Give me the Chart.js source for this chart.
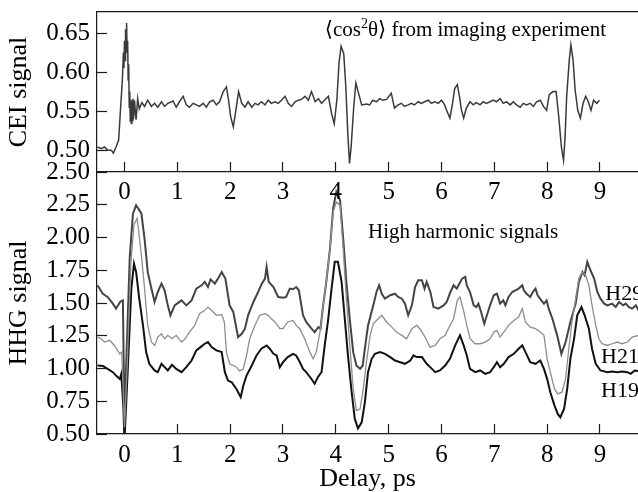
<!DOCTYPE html>
<html lang="en">
<head>
    <meta charset="UTF-8">
    <title>CEI and high harmonic signals vs delay</title>
    <script src="https://cdn.jsdelivr.net/npm/chart.js"></script>
    <style>
        html, body { margin: 0; padding: 0; background: #fff; overflow: hidden; }
        .wrap { position: relative; width: 638px; height: 492px; }
        .wrap canvas { position: absolute; left: 0; top: 0; }
    </style>
</head>
<body>
    <div class="wrap">
        <canvas id="hhgChart" width="638" height="492"></canvas>
        <canvas id="ceiChart" width="638" height="230"></canvas>
    </div>

    <script>
        // ---- data ----
        const delayTicks = [0, 1, 2, 3, 4, 5, 6, 7, 8, 9];
        const ceiTicks = [0.50, 0.55, 0.60, 0.65];
        const hhgTicks = [0.50, 0.75, 1.00, 1.25, 1.50, 1.75, 2.00, 2.25, 2.50];

        // <cos^2 theta> from imaging experiment
        const ceiDelay = [
            -0.51, -0.44, -0.38, -0.32, -0.25, -0.21, -0.16, -0.11, -0.08, -0.04,
            -0.02, -0.01, 0.00, 0.01, 0.02, 0.03, 0.04, 0.05, 0.06, 0.07,
            0.08, 0.09, 0.10, 0.11, 0.12, 0.13, 0.14, 0.15, 0.16, 0.17,
            0.19, 0.21, 0.22, 0.25, 0.28, 0.33, 0.38, 0.44, 0.51, 0.57,
            0.63, 0.70, 0.76, 0.82, 0.92, 0.98, 1.04, 1.11, 1.17, 1.23,
            1.30, 1.36, 1.42, 1.49, 1.55, 1.61, 1.68, 1.74, 1.80, 1.87,
            1.93, 1.97, 2.01, 2.06, 2.10, 2.16, 2.22, 2.28, 2.34, 2.41,
            2.47, 2.53, 2.59, 2.66, 2.72, 2.78, 2.85, 2.91, 2.97, 3.04,
            3.10, 3.16, 3.23, 3.29, 3.35, 3.42, 3.48, 3.54, 3.61, 3.67,
            3.73, 3.80, 3.86, 3.92, 3.97, 4.02, 4.06, 4.10, 4.15, 4.19,
            4.23, 4.26, 4.29, 4.34, 4.38, 4.43, 4.49, 4.58, 4.64, 4.70,
            4.77, 4.83, 4.89, 4.96, 5.05, 5.11, 5.18, 5.24, 5.30, 5.37,
            5.43, 5.49, 5.56, 5.62, 5.68, 5.75, 5.81, 5.87, 5.94, 6.00,
            6.06, 6.11, 6.16, 6.21, 6.25, 6.30, 6.34, 6.38, 6.42, 6.47,
            6.54, 6.60, 6.66, 6.73, 6.79, 6.85, 6.92, 6.98, 7.04, 7.11,
            7.17, 7.23, 7.30, 7.36, 7.42, 7.49, 7.55, 7.61, 7.68, 7.74,
            7.80, 7.87, 7.93, 7.99, 8.04, 8.11, 8.17, 8.22, 8.27, 8.31,
            8.34, 8.37, 8.42, 8.45, 8.49, 8.53, 8.58, 8.63, 8.68, 8.73,
            8.78, 8.83, 8.88, 8.94, 8.99
        ];
        const ceiSignal = [
            0.504, 0.502, 0.504, 0.500, 0.500, 0.496, 0.504, 0.513, 0.547, 0.590,
            0.625, 0.605, 0.640, 0.615, 0.655, 0.630, 0.663, 0.625, 0.640, 0.590,
            0.610, 0.555, 0.575, 0.537, 0.565, 0.534, 0.563, 0.538, 0.566, 0.540,
            0.564, 0.545, 0.539, 0.566, 0.553, 0.561, 0.556, 0.564, 0.556, 0.560,
            0.555, 0.562, 0.556, 0.560, 0.563, 0.555, 0.562, 0.569, 0.558, 0.555,
            0.560, 0.558, 0.556, 0.560, 0.555, 0.562, 0.564, 0.558, 0.562, 0.575,
            0.581, 0.564, 0.543, 0.530, 0.547, 0.575, 0.560, 0.555, 0.562, 0.555,
            0.560, 0.558, 0.562, 0.558, 0.564, 0.560, 0.562, 0.560, 0.564, 0.569,
            0.560, 0.556, 0.562, 0.564, 0.565, 0.569, 0.564, 0.575, 0.562, 0.566,
            0.560, 0.565, 0.569, 0.547, 0.534, 0.564, 0.611, 0.633, 0.624, 0.581,
            0.517, 0.483, 0.504, 0.556, 0.586, 0.573, 0.558, 0.559, 0.558, 0.564,
            0.562, 0.566, 0.564, 0.565, 0.573, 0.554, 0.558, 0.560, 0.556, 0.558,
            0.560, 0.558, 0.562, 0.560, 0.562, 0.564, 0.560, 0.562, 0.560, 0.564,
            0.558, 0.549, 0.541, 0.560, 0.579, 0.584, 0.569, 0.551, 0.541, 0.554,
            0.562, 0.558, 0.561, 0.558, 0.562, 0.560, 0.562, 0.564, 0.562, 0.566,
            0.560, 0.562, 0.558, 0.562, 0.558, 0.555, 0.560, 0.558, 0.560, 0.556,
            0.562, 0.564, 0.556, 0.551, 0.571, 0.575, 0.575, 0.543, 0.504, 0.487,
            0.517, 0.569, 0.616, 0.635, 0.616, 0.577, 0.551, 0.541, 0.560, 0.569,
            0.562, 0.551, 0.564, 0.560, 0.564
        ];

        // H29 harmonic
        const h29Delay = [
            -0.51, -0.41, -0.32, -0.22, -0.16, -0.08, -0.03, 0.00, 0.03, 0.10,
            0.16, 0.22, 0.32, 0.38, 0.44, 0.51, 0.57, 0.63, 0.70, 0.76,
            0.82, 0.87, 0.95, 1.08, 1.17, 1.27, 1.36, 1.46, 1.52, 1.58,
            1.63, 1.71, 1.77, 1.84, 1.91, 1.99, 2.06, 2.15, 2.22, 2.28,
            2.34, 2.44, 2.53, 2.60, 2.66, 2.69, 2.73, 2.82, 2.91, 3.01,
            3.06, 3.13, 3.19, 3.25, 3.30, 3.38, 3.44, 3.54, 3.60, 3.67,
            3.71, 3.76, 3.82, 3.89, 3.95, 4.01, 4.08, 4.14, 4.20, 4.27,
            4.33, 4.39, 4.46, 4.51, 4.55, 4.61, 4.71, 4.77, 4.82, 4.87,
            4.93, 5.03, 5.12, 5.18, 5.25, 5.31, 5.37, 5.44, 5.50, 5.56,
            5.63, 5.68, 5.72, 5.79, 5.85, 5.94, 6.04, 6.10, 6.17, 6.23,
            6.29, 6.39, 6.45, 6.48, 6.54, 6.61, 6.66, 6.70, 6.75, 6.81,
            6.86, 6.92, 6.99, 7.05, 7.11, 7.17, 7.21, 7.27, 7.34, 7.40,
            7.46, 7.53, 7.56, 7.61, 7.68, 7.73, 7.78, 7.82, 7.89, 7.94,
            7.99, 8.03, 8.10, 8.19, 8.27, 8.35, 8.44, 8.54, 8.60, 8.67,
            8.71, 8.76, 8.82, 8.89, 8.95, 9.01, 9.08, 9.14, 9.23, 9.30,
            9.36, 9.44, 9.49, 9.55, 9.61, 9.68, 9.73
        ];
        const h29Signal = [
            1.635, 1.570, 1.546, 1.495, 1.457, 1.510, 1.520, 0.600, 1.000, 1.850,
            2.180, 2.247, 2.184, 1.992, 1.737, 1.610, 1.508, 1.584, 1.648, 1.597,
            1.482, 1.406, 1.482, 1.520, 1.482, 1.520, 1.610, 1.635, 1.661, 1.622,
            1.681, 1.648, 1.686, 1.737, 1.686, 1.482, 1.431, 1.240, 1.265, 1.304,
            1.406, 1.508, 1.584, 1.648, 1.686, 1.776, 1.661, 1.622, 1.546, 1.540,
            1.546, 1.610, 1.605, 1.622, 1.597, 1.406, 1.355, 1.304, 1.278, 1.316,
            1.304, 1.482, 1.661, 1.916, 2.222, 2.349, 2.286, 1.992, 1.661, 1.355,
            1.125, 1.023, 0.997, 1.023, 1.151, 1.329, 1.482, 1.584, 1.635, 1.571,
            1.533, 1.559, 1.571, 1.546, 1.533, 1.495, 1.406, 1.482, 1.622, 1.673,
            1.673, 1.610, 1.661, 1.584, 1.469, 1.457, 1.482, 1.508, 1.584, 1.635,
            1.610, 1.686, 1.700, 1.635, 1.584, 1.482, 1.469, 1.495, 1.431, 1.342,
            1.406, 1.482, 1.559, 1.571, 1.495, 1.520, 1.482, 1.546, 1.584, 1.597,
            1.610, 1.635, 1.597, 1.571, 1.546, 1.584, 1.610, 1.559, 1.520, 1.495,
            1.520, 1.457, 1.380, 1.253, 1.112, 1.202, 1.355, 1.495, 1.661, 1.737,
            1.712, 1.814, 1.750, 1.686, 1.584, 1.533, 1.495, 1.482, 1.495, 1.469,
            1.508, 1.482, 1.495, 1.469, 1.457, 1.482, 1.444
        ];

        // H21 harmonic
        const h21Delay = [
            -0.51, -0.44, -0.38, -0.28, -0.19, -0.09, -0.05, 0.00, 0.05, 0.12,
            0.18, 0.24, 0.32, 0.38, 0.44, 0.51, 0.57, 0.63, 0.70, 0.76,
            0.82, 0.90, 0.98, 1.08, 1.15, 1.23, 1.33, 1.42, 1.52, 1.58,
            1.68, 1.74, 1.84, 1.89, 1.93, 1.99, 2.06, 2.12, 2.18, 2.25,
            2.31, 2.37, 2.47, 2.56, 2.66, 2.72, 2.78, 2.85, 2.94, 3.00,
            3.09, 3.19, 3.25, 3.32, 3.41, 3.51, 3.57, 3.63, 3.70, 3.76,
            3.82, 3.89, 3.95, 4.01, 4.08, 4.14, 4.20, 4.27, 4.33, 4.39,
            4.46, 4.52, 4.58, 4.65, 4.71, 4.77, 4.87, 4.96, 5.06, 5.15,
            5.25, 5.34, 5.44, 5.53, 5.59, 5.69, 5.78, 5.88, 5.97, 6.07,
            6.13, 6.23, 6.30, 6.35, 6.42, 6.48, 6.54, 6.64, 6.73, 6.83,
            6.92, 6.99, 7.05, 7.11, 7.18, 7.27, 7.37, 7.46, 7.53, 7.59,
            7.68, 7.78, 7.87, 7.94, 8.00, 8.06, 8.14, 8.20, 8.28, 8.35,
            8.41, 8.47, 8.54, 8.60, 8.66, 8.73, 8.79, 8.85, 8.92, 8.98,
            9.04, 9.14, 9.23, 9.33, 9.42, 9.52, 9.61, 9.73
        ];
        const h21Signal = [
            1.240, 1.227, 1.202, 1.215, 1.176, 1.112, 1.125, 0.550, 1.000, 1.800,
            2.100, 2.145, 1.865, 1.610, 1.330, 1.202, 1.176, 1.240, 1.265, 1.227,
            1.253, 1.227, 1.253, 1.202, 1.227, 1.278, 1.329, 1.418, 1.444, 1.469,
            1.431, 1.406, 1.412, 1.355, 1.125, 1.036, 1.023, 1.010, 0.980, 0.997,
            1.100, 1.227, 1.330, 1.406, 1.418, 1.406, 1.380, 1.355, 1.304, 1.304,
            1.355, 1.367, 1.329, 1.304, 1.227, 1.125, 1.074, 1.125, 1.278, 1.482,
            1.661, 1.916, 2.196, 2.270, 2.247, 1.916, 1.533, 1.151, 0.844, 0.679,
            0.692, 0.844, 1.049, 1.253, 1.342, 1.367, 1.406, 1.355, 1.316, 1.278,
            1.253, 1.227, 1.304, 1.329, 1.304, 1.240, 1.163, 1.176, 1.227, 1.253,
            1.304, 1.380, 1.520, 1.546, 1.440, 1.329, 1.227, 1.189, 1.189, 1.202,
            1.227, 1.278, 1.291, 1.240, 1.278, 1.329, 1.367, 1.393, 1.457, 1.355,
            1.316, 1.304, 1.278, 1.253, 1.074, 0.972, 0.844, 0.806, 0.819, 0.921,
            1.151, 1.355, 1.533, 1.686, 1.737, 1.712, 1.635, 1.482, 1.329, 1.227,
            1.189, 1.176, 1.189, 1.202, 1.189, 1.202, 1.240, 1.253
        ];

        // H19 harmonic
        const h19Delay = [
            -0.51, -0.41, -0.32, -0.22, -0.16, -0.09, -0.06, -0.02, 0.00, 0.06,
            0.13, 0.18, 0.22, 0.28, 0.35, 0.41, 0.47, 0.57, 0.63, 0.70,
            0.76, 0.82, 0.90, 0.98, 1.08, 1.17, 1.27, 1.36, 1.44, 1.52,
            1.58, 1.65, 1.74, 1.84, 1.90, 1.96, 2.03, 2.12, 2.20, 2.25,
            2.31, 2.41, 2.50, 2.59, 2.69, 2.75, 2.82, 2.88, 2.94, 3.00,
            3.09, 3.19, 3.25, 3.32, 3.38, 3.44, 3.54, 3.60, 3.66, 3.73,
            3.79, 3.85, 3.92, 3.98, 4.04, 4.11, 4.17, 4.23, 4.30, 4.36,
            4.42, 4.49, 4.55, 4.61, 4.68, 4.74, 4.84, 4.93, 5.03, 5.12,
            5.22, 5.31, 5.41, 5.47, 5.53, 5.63, 5.72, 5.82, 5.88, 5.97,
            6.07, 6.16, 6.26, 6.35, 6.42, 6.48, 6.54, 6.64, 6.73, 6.83,
            6.92, 6.99, 7.05, 7.11, 7.18, 7.27, 7.37, 7.46, 7.53, 7.59,
            7.68, 7.78, 7.87, 7.94, 8.00, 8.06, 8.14, 8.20, 8.25, 8.32,
            8.38, 8.44, 8.51, 8.57, 8.65, 8.71, 8.79, 8.85, 8.92, 9.01,
            9.14, 9.23, 9.33, 9.42, 9.52, 9.58, 9.66, 9.73
        ];
        const h19Signal = [
            1.023, 1.020, 0.997, 0.972, 0.946, 0.920, 0.959, 0.700, 0.450, 0.972,
            1.610, 1.800, 1.737, 1.533, 1.329, 1.125, 1.036, 0.985, 0.972, 1.036,
            1.010, 0.985, 1.028, 0.997, 0.972, 1.010, 1.061, 1.138, 1.163, 1.189,
            1.202, 1.163, 1.138, 1.125, 0.972, 0.908, 0.895, 0.844, 0.781, 0.870,
            0.946, 1.023, 1.100, 1.151, 1.176, 1.151, 1.112, 1.100, 1.010, 1.048,
            1.087, 1.112, 1.100, 1.048, 0.997, 0.972, 0.920, 0.883, 0.934, 0.972,
            1.176, 1.355, 1.610, 1.814, 1.814, 1.661, 1.380, 1.100, 0.819, 0.615,
            0.543, 0.589, 0.742, 0.972, 1.074, 1.112, 1.125, 1.112, 1.087, 1.061,
            1.048, 1.036, 1.061, 1.100, 1.087, 1.087, 1.036, 0.997, 0.972, 0.985,
            1.023, 1.074, 1.176, 1.253, 1.176, 1.100, 0.997, 0.972, 0.985, 0.959,
            0.972, 1.010, 1.048, 1.010, 1.036, 1.087, 1.112, 1.151, 1.176, 1.125,
            1.048, 1.036, 1.061, 0.997, 0.921, 0.819, 0.717, 0.653, 0.628, 0.691,
            0.844, 1.074, 1.227, 1.406, 1.469, 1.406, 1.304, 1.151, 1.036, 0.985,
            0.972, 0.977, 0.972, 0.977, 0.972, 0.959, 0.985, 0.980
        ];

        // ---- look ----
        const SERIF = "'Liberation Serif', 'Times New Roman', 'DejaVu Serif', serif";
        const INK = '#1a1a1a';
        const DELAY_MIN = -0.52, DELAY_MAX = 9.72;

        const points = (xs, ys) => xs.map((x, i) => ({ x: x, y: ys[i] }));

        // force fixed axis sizes so both panels line up
        function fixBox(size) {
            return s => {
                if (s.isHorizontal()) s.height = size; else s.width = size;
                s.paddingTop = s.paddingBottom = s.paddingLeft = s.paddingRight = 0;
            };
        }

        const inwardTicks = { drawOnChartArea: false, drawTicks: true, tickLength: -10, tickColor: INK, tickWidth: 1.2 };
        const frameBorder = { display: true, color: INK, width: 1.2 };

        function delayAxis(labelPad, title) {
            return {
                type: 'linear', position: 'bottom', min: DELAY_MIN, max: DELAY_MAX,
                afterBuildTicks: s => { s.ticks = delayTicks.map(v => ({ value: v })); },
                afterFit: fixBox(58),
                border: frameBorder,
                grid: inwardTicks,
                ticks: { color: '#000', font: { family: SERIF, size: 25 }, padding: labelPad,
                         maxRotation: 0, autoSkip: false, callback: v => String(v) },
                title: title
                    ? { display: true, text: title, color: '#000', font: { family: SERIF, size: 26, lineHeight: 1 }, padding: 0 }
                    : { display: false }
            };
        }

        function signalAxis(min, max, tickVals, title) {
            return {
                type: 'linear', position: 'left', min: min, max: max,
                afterBuildTicks: s => { s.ticks = tickVals.map(v => ({ value: v })); },
                afterFit: fixBox(97),
                border: frameBorder,
                grid: inwardTicks,
                ticks: { color: '#000', font: { family: SERIF, size: 25 }, padding: 17, autoSkip: false,
                         callback: v => v.toFixed(2) },
                title: { display: true, text: title, color: '#000', font: { family: SERIF, size: 26, lineHeight: 1 },
                         padding: { top: 6, bottom: 0 } }
            };
        }

        // small text layer, anchored through the chart scales
        function textLayer(items) {
            return {
                id: 'textLayer',
                afterDatasetsDraw(chart) {
                    const { ctx, scales } = chart;
                    ctx.save();
                    ctx.fillStyle = '#000';
                    ctx.textBaseline = 'alphabetic';
                    ctx.textAlign = 'left';
                    items.forEach(it => {
                        let px = scales.x.getPixelForValue(it.at[0]);
                        const py = scales.y.getPixelForValue(it.at[1]);
                        it.parts.forEach(p => {
                            ctx.font = p.size + 'px ' + SERIF;
                            ctx.fillText(p.text, px, py - (p.rise || 0));
                            px += ctx.measureText(p.text).width;
                        });
                    });
                    ctx.restore();
                }
            };
        }

        const baseOptions = (padTop) => ({
            responsive: false,
            animation: false,
            events: [],
            layout: { padding: { top: padTop, left: 0, right: 0, bottom: 0 }, autoPadding: false },
            elements: { point: { radius: 0 }, line: { tension: 0 } },
            plugins: { legend: { display: false }, tooltip: { enabled: false } }
        });

        // ---- bottom panel: HHG ----
        const hhgOpts = baseOptions(172);
        hhgOpts.scales = {
            x: delayAxis(16.5, 'Delay, ps'),
            y: signalAxis(0.50, 2.50, hhgTicks, 'HHG signal')
        };
        new Chart(document.getElementById('hhgChart'), {
            type: 'line',
            data: {
                datasets: [
                    { label: 'H21', data: points(h21Delay, h21Signal), borderColor: '#8e8e8e', borderWidth: 1.3 },
                    { label: 'H29', data: points(h29Delay, h29Signal), borderColor: '#444444', borderWidth: 2 },
                    { label: 'H19', data: points(h19Delay, h19Signal), borderColor: '#111111', borderWidth: 2 }
                ]
            },
            options: hhgOpts,
            plugins: [textLayer([
                { at: [4.61, 1.996], parts: [{ text: 'High harmonic signals', size: 21 }] },
                { at: [9.10, 1.523], parts: [{ text: 'H29', size: 22 }] },
                { at: [9.02, 1.042], parts: [{ text: 'H21', size: 22 }] },
                { at: [9.02, 0.782], parts: [{ text: 'H19', size: 22 }] }
            ])]
        });

        // ---- top panel: CEI ----
        const ceiOpts = baseOptions(12);
        ceiOpts.scales = {
            x: delayAxis(15, null),
            frame: {
                type: 'linear', position: 'top', min: DELAY_MIN, max: DELAY_MAX,
                afterFit: fixBox(0),
                grid: { display: false }, ticks: { display: false },
                border: frameBorder
            },
            y: signalAxis(0.472, 0.677, ceiTicks, 'CEI signal')
        };
        new Chart(document.getElementById('ceiChart'), {
            type: 'line',
            data: {
                datasets: [
                    { label: 'CEI', data: points(ceiDelay, ceiSignal), borderColor: '#3a3a3a', borderWidth: 1.5 }
                ]
            },
            options: ceiOpts,
            plugins: [textLayer([
                { at: [3.79, 0.646], parts: [
                    { text: '\u27E8cos', size: 21 },
                    { text: '2', size: 14, rise: 8 },
                    { text: '\u03B8\u27E9 from imaging experiment', size: 21 }
                ] }
            ])]
        });
    </script>
</body>
</html>
